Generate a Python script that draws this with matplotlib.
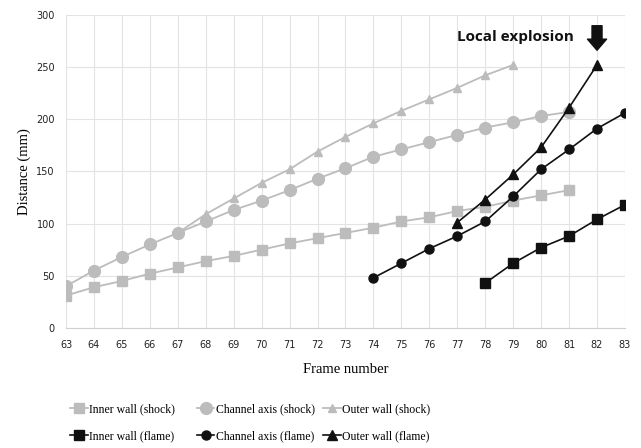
import matplotlib.pyplot as plt

frames = list(range(63, 84))

inner_shock_x = list(range(63, 82))
inner_shock = [31, 39, 45, 52, 58, 64, 69, 75, 81, 86, 91, 96, 102, 106, 112, 116, 122, 127, 132]
channel_shock_x = list(range(63, 82))
channel_shock = [40, 55, 68, 80, 91, 102, 113, 122, 132, 143, 153, 164, 171, 178, 185, 192, 197, 203, 207]
outer_shock_x = list(range(67, 80))
outer_shock = [91, 109, 124, 139, 152, 169, 183, 196, 208, 219, 230, 242, 252]

inner_flame_x = list(range(78, 84))
inner_flame = [43, 62, 77, 88, 104, 118]
channel_flame_x = list(range(74, 84))
channel_flame = [48, 62, 76, 88, 102, 126, 152, 171, 191, 206]
outer_flame_x = list(range(77, 83))
outer_flame = [101, 123, 147, 173, 211, 252]

gray = '#bcbcbc'
black = '#111111'

fig = plt.figure(figsize=(6.41, 4.48), dpi=100)
ax = fig.add_axes([0.103, 0.268, 0.872, 0.699])

ax.plot(inner_shock_x, inner_shock, color=gray, lw=1.3, marker='s', ms=7, label='Inner wall (shock)')
ax.plot(channel_shock_x, channel_shock, color=gray, lw=1.3, marker='o', ms=8.5, label='Channel axis (shock)')
ax.plot(outer_shock_x, outer_shock, color=gray, lw=1.3, marker='^', ms=6, label='Outer wall (shock)')
ax.plot(inner_flame_x, inner_flame, color=black, lw=1.2, marker='s', ms=7, label='Inner wall (flame)')
ax.plot(channel_flame_x, channel_flame, color=black, lw=1.2, marker='o', ms=6.5, label='Channel axis (flame)')
ax.plot(outer_flame_x, outer_flame, color=black, lw=1.2, marker='^', ms=7, label='Outer wall (flame)')

ax.set_xlim(63, 83)
ax.set_ylim(0, 300)
ax.set_xticks(frames)
ax.set_yticks(range(0, 301, 50))
ax.grid(True, color='#e3e3e3', lw=0.8)
ax.set_axisbelow(True)
for s in ['top', 'right', 'left']:
    ax.spines[s].set_visible(False)
ax.spines['bottom'].set_color('#d0d0d0')
ax.tick_params(length=0, labelsize=7, pad=9, colors='#222222')
ax.tick_params(axis='y', pad=8)

ax.set_xlabel('Frame number', family='Liberation Serif', fontsize=10.5, labelpad=9)
ax.set_ylabel('Distance (mm)', family='Liberation Serif', fontsize=10.5, labelpad=4)

ax.text(77.0, 279, 'Local explosion', fontsize=11, fontweight='bold', family='Open Sans',
        ha='left', va='center', color='#111111')
ax.annotate('', xy=(82, 266), xytext=(82, 289.5),
            arrowprops=dict(arrowstyle='simple,head_width=1.37,head_length=0.8,tail_width=0.72',
                            color='#111111', mutation_scale=10, shrinkA=0, shrinkB=0))

# Excel-style legend: three fixed-width columns, two rows each
h, l = ax.get_legend_handles_labels()
col_x = [0.109, 0.307, 0.504]
for c in range(3):
    leg = fig.legend([h[c], h[c + 3]], [l[c], l[c + 3]], loc='center left',
                     bbox_to_anchor=(col_x[c], 0.0558), frameon=False, handlelength=1.5,
                     handletextpad=0.1, labelspacing=1.25, borderpad=0, borderaxespad=0,
                     prop={'family': 'Liberation Serif', 'size': 8.5})

fig.savefig('out.png', dpi=100)
